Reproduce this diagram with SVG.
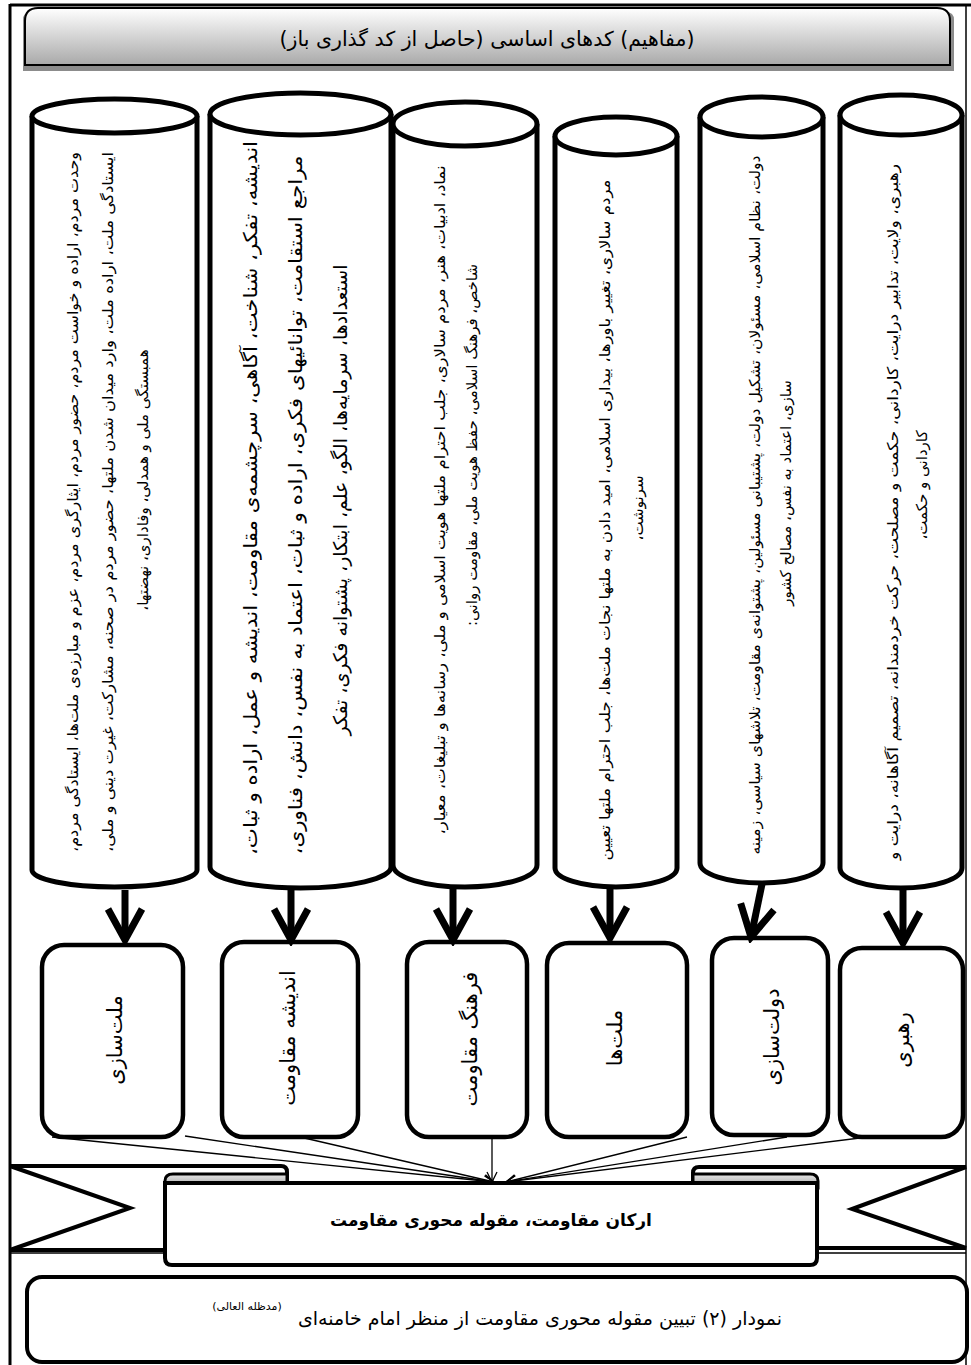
<svg xmlns="http://www.w3.org/2000/svg" width="971" height="1365" viewBox="0 0 971 1365">
<defs>
<linearGradient id="gTitle" x1="0" y1="0" x2="0" y2="1">
<stop offset="0" stop-color="#ffffff"/>
<stop offset="1" stop-color="#a9a9a9"/>
</linearGradient>
<linearGradient id="gFold" x1="0" y1="0" x2="0" y2="1">
<stop offset="0" stop-color="#e6e6e6"/>
<stop offset="1" stop-color="#a0a0a0"/>
</linearGradient>
<marker id="big" markerUnits="userSpaceOnUse" viewBox="-40 -25 46 50" refX="0" refY="0" markerWidth="46" markerHeight="50" orient="auto">
<path d="M-31,-17 L0,0 L-31,17" fill="none" stroke="#000" stroke-width="7"/>
</marker>
<marker id="small" markerUnits="userSpaceOnUse" viewBox="-12 -7 14 14" refX="0" refY="0" markerWidth="14" markerHeight="14" orient="auto">
<path d="M-10,-5 L0,0 L-10,5" fill="none" stroke="#000" stroke-width="1.3"/>
</marker>
</defs>
<style>
.t{font-family:'DejaVu Sans',sans-serif;fill:#000;}
.v{text-anchor:middle;dominant-baseline:central;}
.c1{font-size:15px;}
.c2{font-size:19px;}
.lab{font-size:21px;}
.cyl{fill:#fff;stroke:#000;stroke-width:5;}
.box{fill:#fff;stroke:#000;stroke-width:4.5;}
.arr{stroke:#000;stroke-width:7;fill:none;marker-end:url(#big);}
.con{stroke:#000;stroke-width:1.3;fill:none;marker-end:url(#small);}
.rb{fill:#fff;stroke:#000;stroke-width:4;stroke-linejoin:miter;}
.fold{fill:url(#gFold);stroke:#000;stroke-width:3;}
</style>
<rect width="971" height="1365" fill="#fff"/>

<g id="frame" fill="none" stroke="#000">
<line x1="10" y1="5" x2="971" y2="5" stroke-width="3"/>
<line x1="10" y1="4" x2="10" y2="1365" stroke-width="3"/>
<line x1="966" y1="5" x2="966" y2="1365" stroke-width="1.5"/>
<line x1="10" y1="1253" x2="165" y2="1253" stroke-width="1.5"/>
<line x1="817" y1="1253" x2="966" y2="1253" stroke-width="1.5"/>
</g>

<g id="title">
<path d="M23,71 V20 Q23,12 31,12 H946 Q954,12 954,20 V71 Z" fill="#8c8c8c"/>
<path d="M25,65 V21 Q25,8 38,8 H937 Q950,8 950,21 V65 Z" fill="url(#gTitle)" stroke="#000" stroke-width="2"/>
<text class="t" x="487" y="46" font-size="20.5" text-anchor="middle" direction="rtl">(مفاهیم) کدهای اساسی (حاصل از کد گذاری باز)</text>
</g>

<g id="cyl1">
<path class="cyl" d="M32,116 V870 A82.5,17 0 0 0 197,870 V116"/>
<ellipse class="cyl" cx="114.5" cy="116" rx="82.5" ry="17"/>
<text class="t v c1" direction="rtl" transform="translate(73,502) rotate(-90)" textLength="700" lengthAdjust="spacingAndGlyphs">وحدت مردم، اراده و خواست مردم، حضور مردم، ایثارگری مردم، عزم و مبارزه‌ی ملت‌ها، ایستادگی مردم،</text>
<text class="t v c1" direction="rtl" transform="translate(108,502) rotate(-90)" textLength="700" lengthAdjust="spacingAndGlyphs">ایستادگی ملت، اراده ملت، وارد میدان شدن ملتها، حضور مردم در صحنه، مشارکت، غیرت دینی و ملی،</text>
<text class="t v c1" direction="rtl" transform="translate(143,480) rotate(-90)">همبستگی ملی و همدلی، وفاداری، نهضتها،</text>
</g>

<g id="cyl2">
<path class="cyl" d="M210,114 V867 A90.5,21 0 0 0 391,867 V114"/>
<ellipse class="cyl" cx="300.5" cy="114" rx="90.5" ry="21"/>
<text class="t v c2" direction="rtl" transform="translate(250,498) rotate(-90)" textLength="714" lengthAdjust="spacingAndGlyphs">اندیشه، تفکر، شناخت، آگاهی، سرچشمه‌ی مقاومت، اندیشه و عمل، اراده و ثبات،</text>
<text class="t v c2" direction="rtl" transform="translate(295,505) rotate(-90)" textLength="699" lengthAdjust="spacingAndGlyphs">مراجع استقامت، توانائیهای فکری، اراده و ثبات، اعتماد به نفس، دانش، فناوری،</text>
<text class="t v c2" direction="rtl" transform="translate(340,500) rotate(-90)">استعدادها، سرمایه‌ها، الگو، علم، ابتکار، پشتوانه فکری، تفکر</text>
</g>

<g id="cyl3">
<path class="cyl" d="M393,124 V865 A72,22 0 0 0 537,865 V124"/>
<ellipse class="cyl" cx="465" cy="124" rx="72" ry="22"/>
<text class="t v c1" direction="rtl" transform="translate(440,500) rotate(-90)" textLength="669" lengthAdjust="spacingAndGlyphs">نماد، ادبیات، هنر، مردم سالاری، جلب احترام ملتها هویت اسلامی و ملی، رسانه‌ها و تبلیغات، معیار،</text>
<text class="t v c1" direction="rtl" transform="translate(472,445) rotate(-90)">شاخص، فرهنگ اسلامی، حفظ هویت ملی، مقاومت روانی:</text>
</g>

<g id="cyl4">
<path class="cyl" d="M555,136 V868 A61,19 0 0 0 677,868 V136"/>
<ellipse class="cyl" cx="616" cy="136" rx="61" ry="19"/>
<text class="t v c1" direction="rtl" transform="translate(605,520) rotate(-90)" textLength="681" lengthAdjust="spacingAndGlyphs">مردم سالاری، تغییر باورها، بیداری اسلامی، امید دادن به ملتها نجات ملت‌ها، جلب احترام ملتها تعیین</text>
<text class="t v c1" direction="rtl" transform="translate(638,508) rotate(-90)">سرنوشت،</text>
</g>

<g id="cyl5">
<path class="cyl" d="M700,117 V863 A61.5,20 0 0 0 823,863 V117"/>
<ellipse class="cyl" cx="761.5" cy="117" rx="61.5" ry="20"/>
<text class="t v c1" direction="rtl" transform="translate(755,505) rotate(-90)" textLength="699" lengthAdjust="spacingAndGlyphs">دولت، نظام اسلامی، مسئولان، تشکیل دولت، پشتیبانی مسئولین، پشتوانه‌ی مقاومت، تلاشهای سیاسی، زمینه</text>
<text class="t v c1" direction="rtl" transform="translate(786,493) rotate(-90)">سازی، اعتماد به نفس، مصالح کشور</text>
</g>

<g id="cyl6">
<path class="cyl" d="M840,115 V868 A61,20 0 0 0 962,868 V115"/>
<ellipse class="cyl" cx="901" cy="115" rx="61" ry="20"/>
<text class="t v c1" direction="rtl" transform="translate(893,512) rotate(-90)" textLength="696" lengthAdjust="spacingAndGlyphs">رهبری، ولایت، تدابیر درایت، کاردانی، حکمت و مصلحت، حرکت خردمندانه، تصمیم آگاهانه، درایت و</text>
<text class="t v c1" direction="rtl" transform="translate(922,485) rotate(-90)">کاردانی و حکمت،</text>
</g>

<g id="box1">
<rect class="box" x="42" y="945" width="141" height="192" rx="22"/>
<text class="t v lab" direction="rtl" transform="translate(115,1040) rotate(-90)">ملت‌سازی</text>
</g>
<g id="box2">
<rect class="box" x="222" y="942" width="136" height="195" rx="22"/>
<text class="t v lab" direction="rtl" transform="translate(288,1038) rotate(-90)">اندیشه مقاومت</text>
</g>
<g id="box3">
<rect class="box" x="407" y="942" width="120" height="195" rx="22"/>
<text class="t v lab" direction="rtl" transform="translate(470,1039) rotate(-90)">فرهنگ مقاومت</text>
</g>
<g id="box4">
<rect class="box" x="547" y="943" width="140" height="194" rx="22"/>
<text class="t v lab" direction="rtl" transform="translate(615,1038) rotate(-90)">ملت‌ها</text>
</g>
<g id="box5">
<rect class="box" x="712" y="938" width="116" height="197" rx="22"/>
<text class="t v lab" direction="rtl" transform="translate(772,1037) rotate(-90)">دولت‌سازی</text>
</g>
<g id="box6">
<rect class="box" x="840" y="948" width="123" height="189" rx="22"/>
<text class="t v lab" direction="rtl" transform="translate(902,1040) rotate(-90)">رهبری</text>
</g>

<g id="connectors">
<line class="arr" x1="125" y1="890" x2="125" y2="940"/>
<line class="arr" x1="291" y1="889" x2="291" y2="940"/>
<line class="arr" x1="453" y1="888" x2="453" y2="940"/>
<line class="arr" x1="610" y1="888" x2="610" y2="938"/>
<line class="arr" x1="762" y1="884" x2="751" y2="937"/>
<line class="arr" x1="903" y1="889" x2="903" y2="943"/>
<line class="con" x1="52" y1="1137" x2="494" y2="1182"/>
<line class="con" x1="185" y1="1136" x2="494" y2="1182"/>
<line class="con" x1="300" y1="1137" x2="494" y2="1182"/>
<line class="con" x1="492" y1="1139" x2="492" y2="1182"/>
<line class="con" x1="687" y1="1137" x2="506" y2="1182"/>
<line class="con" x1="787" y1="1137" x2="506" y2="1182"/>
<line class="con" x1="860" y1="1138" x2="506" y2="1182"/>
</g>

<g id="ribbon">
<path class="rb" d="M165,1250 L10,1250 L130,1208 L10,1166 H281 Q287,1166 287,1172 V1183"/>
<path class="rb" d="M817,1248 L966,1248 L852,1209 L966,1167 H699 Q693,1167 693,1173 V1183"/>
<path class="fold" d="M165,1188 V1181 Q165,1174 173,1174 H287 V1188 Z"/>
<path class="fold" d="M693,1188 V1174 H810 Q818,1174 818,1181 V1188 Z"/>
<path class="rb" d="M165,1183 H817 V1258 Q817,1265 810,1265 H172 Q165,1265 165,1258 Z" stroke-width="4.5"/>
<text class="t" x="491" y="1226" font-size="17" font-weight="bold" text-anchor="middle" direction="rtl">ارکان مقاومت، مقوله محوری مقاومت</text>
</g>

<g id="caption">
<rect x="27" y="1277" width="940" height="85" rx="15" fill="#fff" stroke="#000" stroke-width="4"/>
<text class="t" x="540" y="1325" font-size="19" text-anchor="middle" direction="rtl">نمودار (۲) تبیین مقوله محوری مقاومت از منظر امام خامنه‌ای</text>
<text class="t" x="247" y="1310" font-size="11" text-anchor="middle" direction="rtl">(مدظله العالی)</text>
</g>
</svg>
